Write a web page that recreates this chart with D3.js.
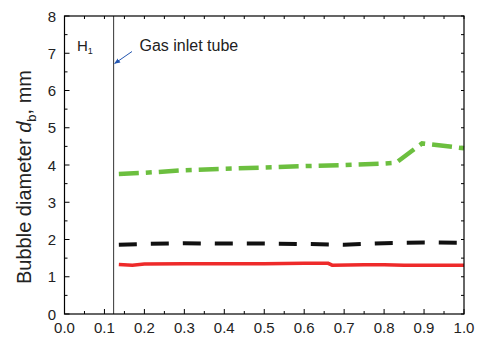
<!DOCTYPE html>
<html>
<head>
<meta charset="utf-8">
<script src="https://cdn.jsdelivr.net/npm/d3@7"></script>
<style>
  html, body { margin: 0; padding: 0; background: #fff; }
  svg { display: block; font-family: "Liberation Sans", Arial, sans-serif; }
</style>
</head>
<body>
<svg id="chart" width="477" height="340"></svg>
<script>
// Relative height positions (x) and bubble diameters (mm) for three cases
const redX   = [0.136, 0.17, 0.20, 0.30, 0.40, 0.50, 0.60, 0.66, 0.67, 0.75, 0.80, 0.85, 1.00];
const redY   = [1.33, 1.31, 1.34, 1.35, 1.35, 1.35, 1.36, 1.36, 1.31, 1.32, 1.32, 1.31, 1.31];

const blackX = [0.136, 0.20, 0.30, 0.40, 0.50, 0.60, 0.70, 0.80, 0.90, 1.00];
const blackY = [1.86, 1.88, 1.90, 1.89, 1.89, 1.88, 1.86, 1.90, 1.92, 1.91];

const greenX = [0.136, 0.20, 0.30, 0.40, 0.50, 0.60, 0.70, 0.80, 0.83, 0.895, 0.92, 1.00];
const greenY = [3.76, 3.79, 3.86, 3.90, 3.93, 3.97, 4.00, 4.04, 4.06, 4.58, 4.55, 4.45];

const xTicks = [0.0, 0.1, 0.2, 0.3, 0.4, 0.5, 0.6, 0.7, 0.8, 0.9, 1.0];
const yTicks = [0, 1, 2, 3, 4, 5, 6, 7, 8];
const inletX = 0.123;

const svg = d3.select("#chart");
const m = { left: 64.5, right: 464, top: 16, bottom: 314 };

const x = d3.scaleLinear().domain([0, 1]).range([m.left, m.right]);
const y = d3.scaleLinear().domain([0, 8]).range([m.bottom, m.top]);

const xMinor = d3.range(0, 1.0001, 0.05);
const yMinor = d3.range(0, 8.0001, 0.5);

// Frame ticks (pointing inward on all four sides)
const tickG = svg.append("g").attr("stroke", "#000").attr("stroke-width", 1);
xMinor.forEach(v => {
  const major = Math.abs(v * 10 - Math.round(v * 10)) < 1e-6;
  const len = major ? 5 : 3;
  tickG.append("line").attr("x1", x(v)).attr("x2", x(v)).attr("y1", m.bottom).attr("y2", m.bottom - len);
  tickG.append("line").attr("x1", x(v)).attr("x2", x(v)).attr("y1", m.top).attr("y2", m.top + 3);
});
yMinor.forEach(v => {
  const major = Math.abs(v - Math.round(v)) < 1e-6;
  const len = major ? 5 : 3;
  tickG.append("line").attr("x1", m.left).attr("x2", m.left + len).attr("y1", y(v)).attr("y2", y(v));
  tickG.append("line").attr("x1", m.right).attr("x2", m.right - 3).attr("y1", y(v)).attr("y2", y(v));
});

// Tick labels
svg.append("g").selectAll("text").data(xTicks).join("text")
  .attr("x", d => x(d)).attr("y", 333)
  .attr("text-anchor", "middle").attr("font-size", 15).attr("fill", "#222")
  .text(d => d.toFixed(1));
svg.append("g").selectAll("text").data(yTicks).join("text")
  .attr("x", 56).attr("y", d => y(d) + 5.5)
  .attr("text-anchor", "end").attr("font-size", 15).attr("fill", "#222")
  .text(d => d);

// Y axis title
const yt = svg.append("text")
  .attr("transform", "translate(31, 177) rotate(-90)")
  .attr("text-anchor", "middle").attr("font-size", 20).attr("fill", "#222");
yt.append("tspan").text("Bubble diameter ");
yt.append("tspan").attr("font-style", "italic").text("d");
yt.append("tspan").attr("font-size", 13).attr("dy", 5).text("b");
yt.append("tspan").attr("dy", -5).text(", mm");

// Gas inlet tube marker
svg.append("line")
  .attr("x1", x(inletX)).attr("x2", x(inletX)).attr("y1", m.top).attr("y2", m.bottom)
  .attr("stroke", "#333").attr("stroke-width", 1);

svg.append("defs").append("marker")
  .attr("id", "arrow").attr("viewBox", "0 0 10 10").attr("refX", 9).attr("refY", 5)
  .attr("markerWidth", 6).attr("markerHeight", 6).attr("orient", "auto")
  .append("path").attr("d", "M0,1 L10,5 L0,9 Z").attr("fill", "#2456b0");
svg.append("line")
  .attr("x1", 132).attr("y1", 51.5).attr("x2", x(inletX) + 1).attr("y2", 63.5)
  .attr("stroke", "#2456b0").attr("stroke-width", 1).attr("marker-end", "url(#arrow)");

svg.append("text").attr("x", 139.5).attr("y", 50.5).attr("font-size", 16).attr("fill", "#222")
  .text("Gas inlet tube");
const h1 = svg.append("text").attr("x", 77).attr("y", 51).attr("font-size", 15).attr("fill", "#222");
h1.append("tspan").text("H");
h1.append("tspan").attr("font-size", 9).attr("dy", 3).text("1");

// Data lines
const line = d3.line().x(d => x(d[0])).y(d => y(d[1]));
const zip = (a, b) => a.map((v, i) => [v, b[i]]);

svg.append("path").datum(zip(redX, redY)).attr("d", line)
  .attr("fill", "none").attr("stroke", "#ee2a2a").attr("stroke-width", 3.5);
svg.append("path").datum(zip(blackX, blackY)).attr("d", line)
  .attr("fill", "none").attr("stroke", "#111").attr("stroke-width", 4)
  .attr("stroke-dasharray", "18,14");
svg.append("path").datum(zip(greenX, greenY)).attr("d", line)
  .attr("fill", "none").attr("stroke", "#6cbf3f").attr("stroke-width", 4.5)
  .attr("stroke-dasharray", "20,7,6,7");

// Plot frame
svg.append("rect")
  .attr("x", m.left).attr("y", m.top).attr("width", m.right - m.left).attr("height", m.bottom - m.top)
  .attr("fill", "none").attr("stroke", "#000").attr("stroke-width", 1.2);
</script>
</body>
</html>
